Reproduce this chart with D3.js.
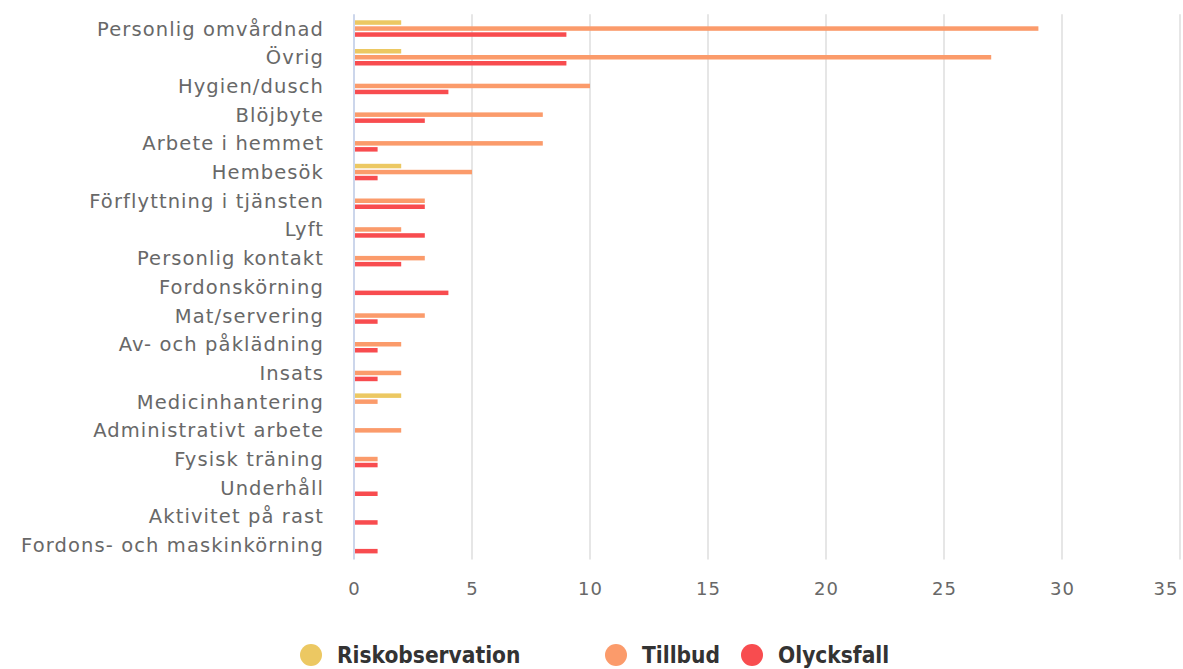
<!DOCTYPE html>
<html>
<head>
<meta charset="utf-8">
<script src="https://cdn.jsdelivr.net/npm/d3@7"></script>
<style>
html,body{margin:0;padding:0;background:#fff;}
svg{display:block;}
</style>
</head>
<body>
<svg id="chart" width="1183" height="669"></svg>
<script>
const categories = ["Personlig omvårdnad","Övrig","Hygien/dusch","Blöjbyte","Arbete i hemmet","Hembesök","Förflyttning i tjänsten","Lyft","Personlig kontakt","Fordonskörning","Mat/servering","Av- och påklädning","Insats","Medicinhantering","Administrativt arbete","Fysisk träning","Underhåll","Aktivitet på rast","Fordons- och maskinkörning"];
const riskobservation = [2,2,0,0,0,2,0,0,0,0,0,0,0,2,0,0,0,0,0];
const tillbud =         [29,27,10,8,8,5,3,2,3,0,3,2,2,1,2,1,0,0,0];
const olycksfall =      [9,9,4,3,1,1,3,3,2,4,1,1,1,0,0,1,1,1,1];
const seriesNames = ["Riskobservation","Tillbud","Olycksfall"];
const seriesColors = ["#ecc862","#fb9b6b","#f84c4f"];
const xTicks = [0,5,10,15,20,25,30,35];

const series = [riskobservation, tillbud, olycksfall];
const svg = d3.select("#chart");
const m = {left:354, right:1180, top:14.2, bottom:559.5};

const x = d3.scaleLinear().domain([0,35]).range([m.left, m.right]);
const y = d3.scaleBand().domain(categories).range([m.top, m.bottom]);
const sub = d3.scalePoint().domain(seriesNames).range([-6, 6]);
const barH = 4.5;

// grid
svg.append("g").selectAll("line").data(xTicks.filter(d=>d>0)).join("line")
  .attr("x1", d=>x(d)).attr("x2", d=>x(d))
  .attr("y1", m.top).attr("y2", m.bottom)
  .attr("stroke", "#e6e6e6").attr("stroke-width", 2);

// bars
seriesNames.forEach((name, si) => {
  svg.append("g").selectAll("rect")
    .data(categories.map((c,i)=>({c, v: series[si][i]})).filter(d=>d.v>0))
    .join("rect")
    .attr("x", x(0))
    .attr("y", d => y(d.c) + y.bandwidth()/2 + sub(name) - barH/2)
    .attr("width", d => x(d.v) - x(0))
    .attr("height", barH)
    .attr("fill", seriesColors[si]);
});

// y axis line
svg.append("line").attr("x1", x(0)).attr("x2", x(0))
  .attr("y1", m.top).attr("y2", m.bottom)
  .attr("stroke", "#ccd6eb").attr("stroke-width", 2);

// category labels
const yAxis = d3.axisLeft(y).tickSize(0).tickPadding(0);
const gy = svg.append("g").attr("transform", `translate(${m.left-30},0)`).call(yAxis);
gy.select(".domain").remove();
gy.selectAll("text")
  .attr("font-family", "DejaVu Sans, Verdana, sans-serif")
  .attr("font-size", 19.5)
  .attr("letter-spacing", "1.1px")
  .attr("fill", "#686868")
  .attr("dy", "0.36em");

// x labels
const xAxis = d3.axisBottom(x).tickValues(xTicks).tickSize(0).tickPadding(0);
const gx = svg.append("g").attr("transform", `translate(0,${m.bottom+23})`).call(xAxis);
gx.select(".domain").remove();
gx.selectAll("text")
  .attr("font-family", "DejaVu Sans, Verdana, sans-serif")
  .attr("font-size", 18)
  .attr("letter-spacing", "1px")
  .attr("fill", "#686868")
  .attr("dy", "0.71em")
  .attr("text-anchor", d => d===35 ? "end" : "middle")
  .attr("x", d => d===35 ? -2 : 0);

// legend
const legendX = [311, 616, 752];
const lg = svg.append("g").selectAll("g").data(seriesNames).join("g")
  .attr("transform", (d,i)=>`translate(${legendX[i]},655)`);
lg.append("circle").attr("r", 11).attr("fill", (d,i)=>seriesColors[i]);
lg.append("text").attr("x", 26).attr("dy", "0.36em")
  .attr("font-family", "DejaVu Sans Condensed, DejaVu Sans, sans-serif")
  .attr("font-weight", "bold").attr("font-size", 22.5)
  .attr("fill", "#333333").text(d=>d);
</script>
</body>
</html>
